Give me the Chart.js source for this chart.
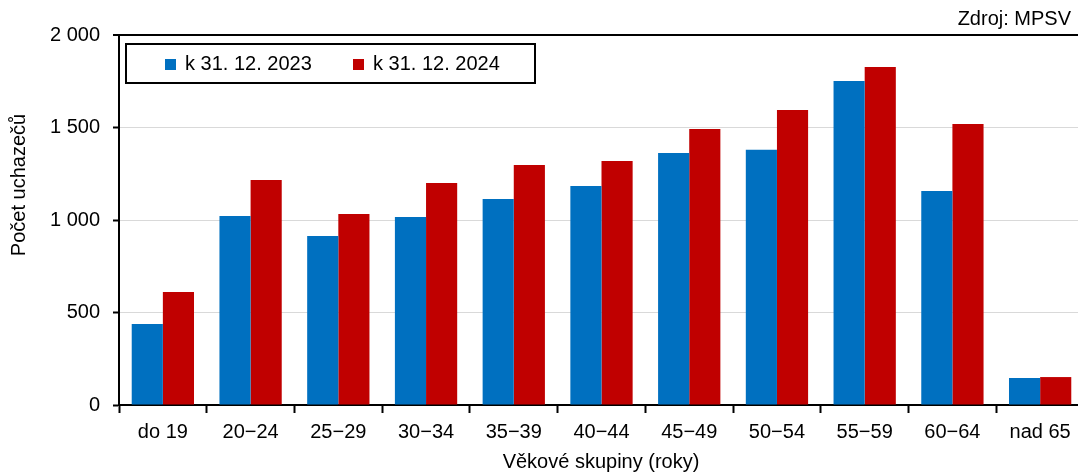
<!DOCTYPE html>
<html>
<head>
<meta charset="utf-8">
<script src="https://cdn.jsdelivr.net/npm/chart.js@4.4.1/dist/chart.umd.min.js"></script>
<style>
  html, body { margin: 0; padding: 0; background: #fff; overflow: hidden; }
  #wrap { width: 1087px; height: 473px; position: relative; }
</style>
</head>
<body>
<div id="wrap"><canvas id="chart"></canvas></div>
<script>
const categories = ['do 19', '20\u221224', '25\u221229', '30\u221234', '35\u221239', '40\u221244', '45\u221249', '50\u221254', '55\u221259', '60\u221264', 'nad 65'];
const values2023 = [438, 1022, 914, 1016, 1114, 1184, 1362, 1380, 1751, 1157, 146];
const values2024 = [611, 1216, 1032, 1200, 1297, 1319, 1492, 1595, 1827, 1519, 151];
const seriesLabels = ['k 31. 12. 2023', 'k 31. 12. 2024'];
const seriesColors = ['#0070c0', '#c00000'];

const FONT = 'Liberation Sans, Arial, sans-serif';

function formatNum(v) {
    return String(v).replace(/\B(?=(\d{3})+(?!\d))/g, ' ');
}

// legenda v rámečku, popisky os a zdroj
const extras = {
    id: 'extras',
    afterDraw(chart) {
        const ctx = chart.ctx;
        ctx.save();
        ctx.font = '20px ' + FONT;
        ctx.fillStyle = '#000';
        ctx.textBaseline = 'middle';

        // zdroj vpravo nahoře
        ctx.textAlign = 'right';
        ctx.fillText('Zdroj: MPSV', 1071, 19);

        // popisek osy x
        ctx.textAlign = 'center';
        ctx.fillText('Věkové skupiny (roky)', 601, 462);

        // popisek osy y
        ctx.save();
        ctx.translate(19, 185);
        ctx.rotate(-Math.PI / 2);
        ctx.fillText('Počet uchazečů', 0, 0);
        ctx.restore();

        // rámeček legendy
        ctx.fillStyle = '#fff';
        ctx.fillRect(126, 44, 409, 39);
        ctx.strokeStyle = '#000';
        ctx.lineWidth = 2;
        ctx.strokeRect(126, 44, 409, 39);
        const xs = [165, 353];
        ctx.textAlign = 'left';
        chart.data.datasets.forEach((ds, i) => {
            ctx.fillStyle = ds.backgroundColor;
            ctx.fillRect(xs[i], 59, 11, 11);
            ctx.fillStyle = '#000';
            ctx.fillText(ds.label, xs[i] + 20, 64);
        });
        ctx.restore();
    }
};

const ctx = document.getElementById('chart');

new Chart(ctx, {
    type: 'bar',
    data: {
        labels: categories,
        datasets: [{
            label: seriesLabels[0],
            data: values2023,
            backgroundColor: seriesColors[0],
            barPercentage: 1,
            categoryPercentage: 0.71,
        }, {
            label: seriesLabels[1],
            data: values2024,
            backgroundColor: seriesColors[1],
            barPercentage: 1,
            categoryPercentage: 0.71,
        }]
    },
    options: {
        responsive: true,
        maintainAspectRatio: false,
        animation: false,
        devicePixelRatio: 1,
        layout: {
            padding: { top: 35, right: 3, left: 0, bottom: 0 }
        },
        scales: {
            x: {
                afterFit(scale) { scale.height = 68; },
                grid: {
                    display: true,
                    offset: true,
                    drawOnChartArea: false,
                    drawTicks: true,
                    tickLength: 8,
                    tickColor: '#000',
                    tickWidth: 2,
                },
                border: { color: '#000', width: 2 },
                ticks: {
                    color: '#000',
                    font: { family: FONT, size: 20 },
                    padding: 7,
                    maxRotation: 0,
                },
                title: { display: false }
            },
            y: {
                min: 0,
                max: 2000,
                afterFit(scale) { scale.width = 119; },
                grid: {
                    color: (c) => (c.tick && c.tick.value === 2000) ? '#000' : '#d9d9d9',
                    lineWidth: (c) => (c.tick && c.tick.value === 2000) ? 2 : 1,
                    tickColor: '#000',
                    tickLength: 6,
                    tickWidth: 2,
                },
                border: { color: '#000', width: 2 },
                ticks: {
                    stepSize: 500,
                    color: '#000',
                    font: { family: FONT, size: 20 },
                    padding: 13,
                    callback: (v) => formatNum(v),
                },
                title: { display: false }
            }
        },
        plugins: {
            legend: { display: false },
            tooltip: { enabled: false }
        }
    },
    plugins: [extras]
});
</script>
</body>
</html>
